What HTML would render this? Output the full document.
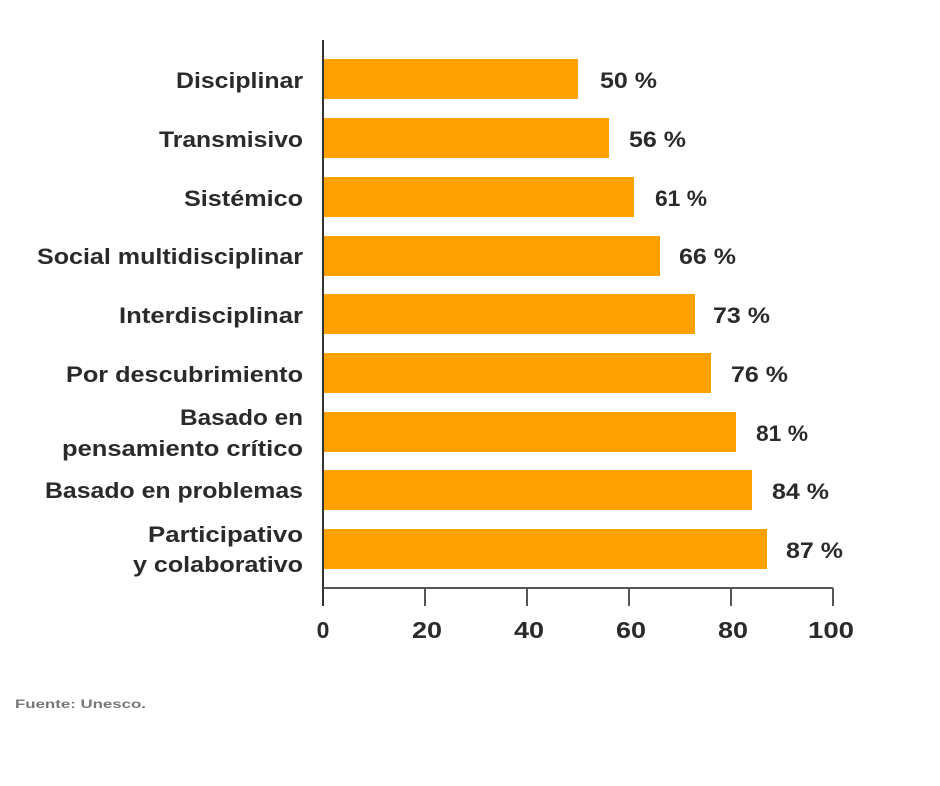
<!DOCTYPE html>
<html><head><meta charset="utf-8"><style>
body{margin:0;background:#fff;width:940px;height:781px;overflow:hidden}
svg text{font-family:"Liberation Sans",sans-serif;font-weight:bold;fill:#2a2a2a}
</style></head><body>
<svg width="940" height="781" viewBox="0 0 940 781">
<g fill="#FFA100">
<rect x="323" y="59" width="255" height="40"/>
<rect x="323" y="118" width="286" height="40"/>
<rect x="323" y="177" width="311" height="40"/>
<rect x="323" y="236" width="337" height="40"/>
<rect x="323" y="294" width="372" height="40"/>
<rect x="323" y="353" width="388" height="40"/>
<rect x="323" y="412" width="413" height="40"/>
<rect x="323" y="470" width="429" height="40"/>
<rect x="323" y="529" width="444" height="40"/>
</g>
<line x1="323" y1="40" x2="323" y2="606" stroke="#333" stroke-width="2"/>
<line x1="323" y1="588" x2="833" y2="588" stroke="#555" stroke-width="2"/>
<g stroke="#555" stroke-width="2">
<line x1="425" y1="588" x2="425" y2="606"/><line x1="527" y1="588" x2="527" y2="606"/>
<line x1="629" y1="588" x2="629" y2="606"/><line x1="731" y1="588" x2="731" y2="606"/>
<line x1="833" y1="588" x2="833" y2="606"/></g>
<g font-size="23" text-anchor="middle">
<text x="323" y="638">0</text>
<text x="427" y="638" textLength="30" lengthAdjust="spacingAndGlyphs">20</text>
<text x="529" y="638" textLength="30" lengthAdjust="spacingAndGlyphs">40</text>
<text x="631" y="638" textLength="30" lengthAdjust="spacingAndGlyphs">60</text>
<text x="733" y="638" textLength="30" lengthAdjust="spacingAndGlyphs">80</text>
<text x="831" y="638" textLength="46" lengthAdjust="spacingAndGlyphs">100</text></g>
<g font-size="22" text-anchor="end">
<text x="303" y="88" textLength="127" lengthAdjust="spacingAndGlyphs">Disciplinar</text>
<text x="303" y="147" textLength="144" lengthAdjust="spacingAndGlyphs">Transmisivo</text>
<text x="303" y="206" textLength="119" lengthAdjust="spacingAndGlyphs">Sistémico</text>
<text x="303" y="264" textLength="266" lengthAdjust="spacingAndGlyphs">Social multidisciplinar</text>
<text x="303" y="323" textLength="184" lengthAdjust="spacingAndGlyphs">Interdisciplinar</text>
<text x="303" y="382" textLength="237" lengthAdjust="spacingAndGlyphs">Por descubrimiento</text>
<text x="303" y="425" textLength="123" lengthAdjust="spacingAndGlyphs">Basado en</text>
<text x="303" y="456" textLength="241" lengthAdjust="spacingAndGlyphs">pensamiento crítico</text>
<text x="303" y="498" textLength="258" lengthAdjust="spacingAndGlyphs">Basado en problemas</text>
<text x="303" y="542" textLength="155" lengthAdjust="spacingAndGlyphs">Participativo</text>
<text x="303" y="572" textLength="170" lengthAdjust="spacingAndGlyphs">y colaborativo</text>
</g>
<g font-size="22">
<text x="600" y="88" textLength="57" lengthAdjust="spacingAndGlyphs">50 %</text>
<text x="629" y="147" textLength="57" lengthAdjust="spacingAndGlyphs">56 %</text>
<text x="655" y="206" textLength="52" lengthAdjust="spacingAndGlyphs">61 %</text>
<text x="679" y="264" textLength="57" lengthAdjust="spacingAndGlyphs">66 %</text>
<text x="713" y="323" textLength="57" lengthAdjust="spacingAndGlyphs">73 %</text>
<text x="731" y="382" textLength="57" lengthAdjust="spacingAndGlyphs">76 %</text>
<text x="756" y="441" textLength="52" lengthAdjust="spacingAndGlyphs">81 %</text>
<text x="772" y="499" textLength="57" lengthAdjust="spacingAndGlyphs">84 %</text>
<text x="786" y="558" textLength="57" lengthAdjust="spacingAndGlyphs">87 %</text>
</g>
<text x="15" y="708" font-size="12" textLength="131" lengthAdjust="spacingAndGlyphs" style="fill:#777">Fuente: Unesco.</text>
</svg>
</body></html>
